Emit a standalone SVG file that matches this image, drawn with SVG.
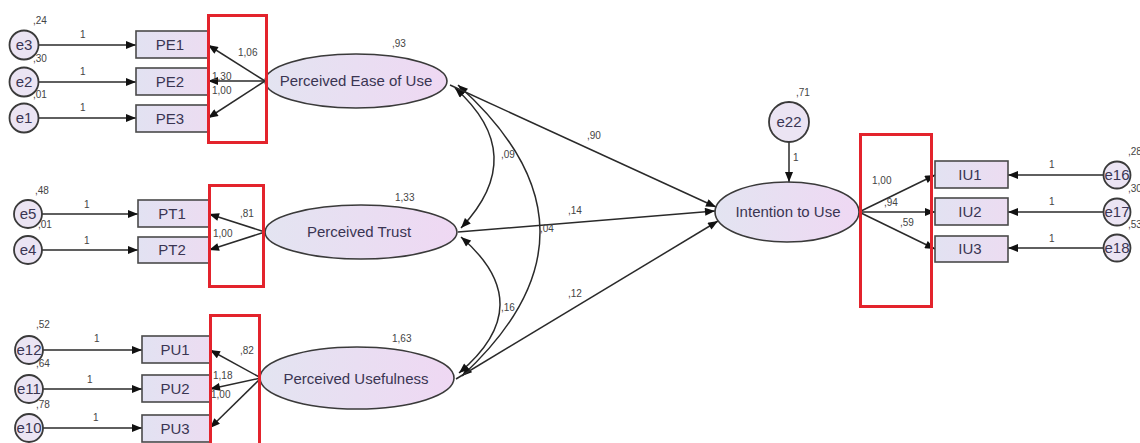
<svg xmlns="http://www.w3.org/2000/svg" width="1140" height="443" viewBox="0 0 1140 443">
<style>
.box{stroke:#4a4a4a;stroke-width:1.6;fill:url(#gBox)}
.ell{stroke:#3a3a3a;stroke-width:1.6;fill:url(#gEll)}
.err{stroke:#3a3a3a;stroke-width:1.8;fill:#ebe4f3}
.red{fill:none;stroke:#e3232c;stroke-width:3}
.lbl{font-family:"Liberation Sans",Arial,sans-serif;font-size:15px;fill:#3a3552;text-anchor:middle}
.elbl{font-family:"Liberation Sans",Arial,sans-serif;font-size:15px;fill:#3a3552;text-anchor:middle}
.num{font-family:"Liberation Sans",Arial,sans-serif;font-size:10px;fill:#444}
.ln{stroke:#2a2a2a;stroke-width:1.5;fill:none}
.one{marker-end:url(#arr)}
.two{marker-start:url(#arr);marker-end:url(#arr)}
</style>
<defs>
<linearGradient id="gBox" x1="0" y1="0" x2="1" y2="0"><stop offset="0" stop-color="#e2e2f2"/><stop offset="1" stop-color="#ecdcf1"/></linearGradient>
<linearGradient id="gEll" x1="0" y1="0" x2="1" y2="0"><stop offset="0" stop-color="#e3e4f1"/><stop offset="1" stop-color="#efd8f3"/></linearGradient>
<marker id="arr" viewBox="0 0 10 8" refX="10" refY="4" markerWidth="11" markerHeight="8" markerUnits="userSpaceOnUse" orient="auto-start-reverse"><path d="M0,0 L10,4 L0,8 z" fill="#111"/></marker>
</defs>
<rect width="1140" height="443" fill="#fff"/>

<g id="connectors">
<line class="ln one" x1="39" y1="45" x2="136" y2="45"/>
<line class="ln one" x1="39" y1="82" x2="136" y2="82"/>
<line class="ln one" x1="39" y1="118" x2="136" y2="118"/>
<line class="ln one" x1="265" y1="81" x2="208" y2="45"/>
<line class="ln one" x1="265" y1="81" x2="208" y2="81"/>
<line class="ln one" x1="265" y1="81" x2="208" y2="118"/>
<line class="ln one" x1="42" y1="214" x2="138" y2="214"/>
<line class="ln one" x1="42" y1="250" x2="138" y2="250"/>
<line class="ln one" x1="265" y1="232" x2="209" y2="214"/>
<line class="ln one" x1="265" y1="232" x2="209" y2="250"/>
<line class="ln one" x1="43" y1="350" x2="142" y2="350"/>
<line class="ln one" x1="43" y1="389" x2="142" y2="389"/>
<line class="ln one" x1="43" y1="428" x2="142" y2="428"/>
<line class="ln one" x1="261" y1="378" x2="210" y2="350"/>
<line class="ln one" x1="261" y1="378" x2="210" y2="389"/>
<line class="ln one" x1="261" y1="378" x2="210" y2="428"/>
<path class="ln two" d="M455 88 Q530 155 461 228"/>
<path class="ln two" d="M461 237 Q540 305 459 373"/>
<path class="ln two" d="M458 85 Q620 230 462 376"/>
<line class="ln one" x1="450" y1="85" x2="716" y2="207"/>
<line class="ln one" x1="458" y1="232" x2="715" y2="211"/>
<line class="ln one" x1="456" y1="379" x2="718" y2="221"/>
<line class="ln one" x1="789" y1="142" x2="789" y2="182"/>
<line class="ln one" x1="859" y1="212" x2="935" y2="175"/>
<line class="ln one" x1="859" y1="212" x2="935" y2="212"/>
<line class="ln one" x1="859" y1="212" x2="935" y2="249"/>
<line class="ln one" x1="1103" y1="175" x2="1008" y2="175"/>
<line class="ln one" x1="1103" y1="212" x2="1008" y2="212"/>
<line class="ln one" x1="1103" y1="248" x2="1008" y2="248"/>
</g>

<g id="e3"><circle class="err" cx="24" cy="45" r="14.5"/><text class="elbl" x="24" y="50">e3</text></g>
<g id="e2"><circle class="err" cx="24" cy="82" r="14.5"/><text class="elbl" x="24" y="87">e2</text></g>
<g id="e1"><circle class="err" cx="24" cy="118" r="14.5"/><text class="elbl" x="24" y="123">e1</text></g>
<g id="e5"><circle class="err" cx="28" cy="214" r="14"/><text class="elbl" x="28" y="219">e5</text></g>
<g id="e4"><circle class="err" cx="28" cy="250" r="14"/><text class="elbl" x="28" y="255">e4</text></g>
<g id="e12"><circle class="err" cx="29" cy="350" r="14"/><text class="elbl" x="29" y="355">e12</text></g>
<g id="e11"><circle class="err" cx="29" cy="389" r="14"/><text class="elbl" x="29" y="394">e11</text></g>
<g id="e10"><circle class="err" cx="29" cy="428" r="14"/><text class="elbl" x="29" y="433">e10</text></g>
<g id="e22"><circle class="err" cx="789" cy="122" r="20"/><text class="elbl" x="789" y="127">e22</text></g>
<g id="e16"><circle class="err" cx="1117" cy="175" r="13.5"/><text class="elbl" x="1117" y="180">e16</text></g>
<g id="e17"><circle class="err" cx="1117" cy="212" r="13.5"/><text class="elbl" x="1117" y="217">e17</text></g>
<g id="e18"><circle class="err" cx="1117" cy="248" r="13.5"/><text class="elbl" x="1117" y="253">e18</text></g>

<g id="PE1"><rect class="box" x="136" y="31" width="72" height="27"/><text class="lbl" x="170" y="50">PE1</text></g>
<g id="PE2"><rect class="box" x="136" y="68" width="72" height="27"/><text class="lbl" x="170" y="87">PE2</text></g>
<g id="PE3"><rect class="box" x="136" y="105" width="72" height="27"/><text class="lbl" x="170" y="124">PE3</text></g>
<g id="PT1"><rect class="box" x="138" y="200" width="71" height="27"/><text class="lbl" x="172" y="219">PT1</text></g>
<g id="PT2"><rect class="box" x="138" y="237" width="71" height="26"/><text class="lbl" x="172" y="255">PT2</text></g>
<g id="PU1"><rect class="box" x="142" y="336" width="68" height="27"/><text class="lbl" x="175" y="355">PU1</text></g>
<g id="PU2"><rect class="box" x="142" y="375" width="68" height="27"/><text class="lbl" x="175" y="394">PU2</text></g>
<g id="PU3"><rect class="box" x="142" y="415" width="68" height="27"/><text class="lbl" x="175" y="434">PU3</text></g>
<g id="IU1"><rect class="box" x="935" y="161" width="73" height="27"/><text class="lbl" x="970" y="180">IU1</text></g>
<g id="IU2"><rect class="box" x="935" y="198" width="73" height="27"/><text class="lbl" x="970" y="217">IU2</text></g>
<g id="IU3"><rect class="box" x="935" y="236" width="73" height="26"/><text class="lbl" x="970" y="254">IU3</text></g>

<g id="PEU"><ellipse class="ell" cx="356" cy="81" rx="91" ry="27"/><text class="lbl" x="356" y="86">Perceived Ease of Use</text></g>
<g id="PT"><ellipse class="ell" cx="361" cy="232" rx="96" ry="27"/><text class="lbl" x="359" y="237">Perceived Trust</text></g>
<g id="PU"><ellipse class="ell" cx="357" cy="378" rx="97" ry="31"/><text class="lbl" x="356" y="384">Perceived Usefulness</text></g>
<g id="IU"><ellipse class="ell" cx="787" cy="212" rx="72" ry="30"/><text class="lbl" x="788" y="217">Intention to Use</text></g>

<g id="numbers">
<text class="num" x="33" y="24">,24</text>
<text class="num" x="33" y="62">,30</text>
<text class="num" x="33" y="98">,01</text>
<text class="num" x="80" y="38">1</text>
<text class="num" x="80" y="75">1</text>
<text class="num" x="80" y="111">1</text>
<text class="num" x="238" y="56">1,06</text>
<text class="num" x="212" y="80">1,30</text>
<text class="num" x="212" y="94">1,00</text>
<text class="num" x="35" y="194">,48</text>
<text class="num" x="38" y="228">,01</text>
<text class="num" x="84" y="208">1</text>
<text class="num" x="84" y="244">1</text>
<text class="num" x="240" y="217">,81</text>
<text class="num" x="213" y="237">1,00</text>
<text class="num" x="36" y="328">,52</text>
<text class="num" x="36" y="367">,64</text>
<text class="num" x="36" y="408">,78</text>
<text class="num" x="94" y="342">1</text>
<text class="num" x="87" y="383">1</text>
<text class="num" x="93" y="421">1</text>
<text class="num" x="240" y="354">,82</text>
<text class="num" x="213" y="379">1,18</text>
<text class="num" x="211" y="398">1,00</text>
<text class="num" x="392" y="47">,93</text>
<text class="num" x="395" y="201">1,33</text>
<text class="num" x="392" y="342">1,63</text>
<text class="num" x="587" y="139">,90</text>
<text class="num" x="501" y="158">,09</text>
<text class="num" x="568" y="214">,14</text>
<text class="num" x="540" y="232">,04</text>
<text class="num" x="501" y="311">,16</text>
<text class="num" x="568" y="297">,12</text>
<text class="num" x="796" y="96">,71</text>
<text class="num" x="793" y="161">1</text>
<text class="num" x="872" y="184">1,00</text>
<text class="num" x="884" y="206">,94</text>
<text class="num" x="900" y="226">,59</text>
<text class="num" x="1049" y="168">1</text>
<text class="num" x="1049" y="205">1</text>
<text class="num" x="1049" y="242">1</text>
<text class="num" x="1128" y="155">,28</text>
<text class="num" x="1128" y="192">,30</text>
<text class="num" x="1128" y="228">,53</text>
</g>

<g id="highlights">
<rect class="red" x="208.5" y="15.5" width="58" height="127"/>
<rect class="red" x="209.5" y="185.5" width="54" height="101"/>
<rect class="red" x="210.5" y="315.5" width="49" height="130"/>
<rect class="red" x="860.5" y="134.5" width="71" height="172"/>
</g>
</svg>
